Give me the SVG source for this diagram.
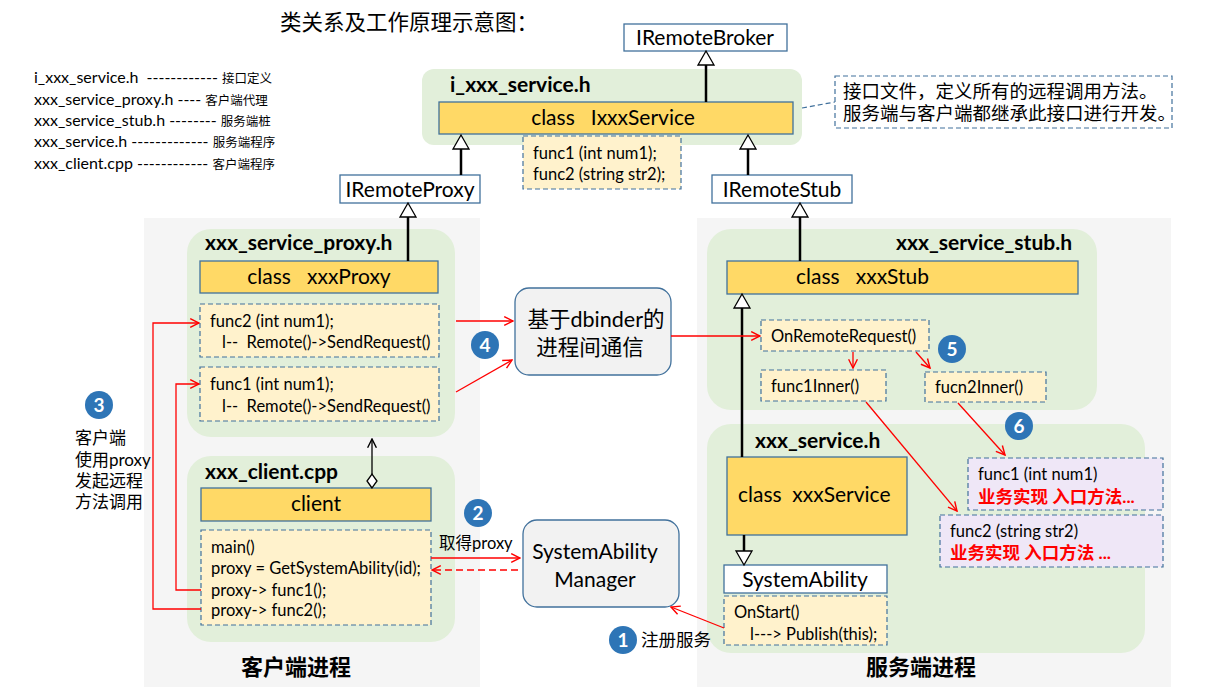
<svg xmlns="http://www.w3.org/2000/svg" width="1216" height="687" viewBox="0 0 1216 687" xml:space="preserve">
<defs>
<style>
text{font-family:Lato,"Noto Sans CJK SC",sans-serif;fill:#000;white-space:pre}
.gray{fill:#f5f5f5}
.green{fill:#e2efda}
.cls{fill:#ffd966;stroke:#41719c;stroke-width:1.3}
.box{fill:#fff;stroke:#41719c;stroke-width:1.3}
.dash{fill:#fff2cc;stroke:#41719c;stroke-width:1.2;stroke-dasharray:5 3}
.purp{fill:#efe7f7;stroke:#41719c;stroke-width:1.2;stroke-dasharray:5 3}
.rbox{fill:#f2f2f2;stroke:#41719c;stroke-width:1.3}
.t20{font-size:21px}
.t18{font-size:21px}
.t14{font-size:16.5px}
.t13{font-size:16px}
.hd{font-size:21px;font-weight:bold}
.cjk11{font-size:12.5px}
.badge circle{fill:#2e75b6}
.badge text{fill:#fff;font-size:19px;font-weight:bold;text-anchor:middle}
.inh{stroke:#000;stroke-width:2.5;fill:none}
.red{stroke:#ff0000;stroke-width:1.3;fill:none}
.redd{stroke:#ff0000;stroke-width:1.3;fill:none;stroke-dasharray:7 4}
.redt{fill:#ff0000;font-size:17.5px;font-weight:bold}
</style>
<marker id="ra" viewBox="0 0 10 10" refX="9" refY="5" markerWidth="11" markerHeight="11" markerUnits="userSpaceOnUse" orient="auto">
<path d="M1,1 L9,5 L1,9" fill="none" stroke="#ff0000" stroke-width="1.3"/>
</marker>
<marker id="ba" viewBox="0 0 10 10" refX="9" refY="5" markerWidth="11" markerHeight="11" markerUnits="userSpaceOnUse" orient="auto">
<path d="M1,1 L9,5 L1,9" fill="none" stroke="#000" stroke-width="1.3"/>
</marker>
</defs>
<rect width="1216" height="687" fill="#fff"/>

<g id="backgrounds">
<rect class="gray" x="144" y="218" width="336" height="469"/>
<rect class="gray" x="697" y="218" width="474" height="469"/>
</g>

<g id="title"><text x="280" y="30" font-size="21.5">类关系及工作原理示意图：</text></g>

<g id="legend">
<text x="34" y="83" class="t13">i_xxx_service.h  ------------ <tspan class="cjk11">接口定义</tspan></text>
<text x="34" y="105" class="t13">xxx_service_proxy.h ---- <tspan class="cjk11">客户端代理</tspan></text>
<text x="34" y="126" class="t13">xxx_service_stub.h -------- <tspan class="cjk11">服务端桩</tspan></text>
<text x="34" y="147" class="t13">xxx_service.h ------------- <tspan class="cjk11">服务端程序</tspan></text>
<text x="34" y="169" class="t13">xxx_client.cpp ------------ <tspan class="cjk11">客户端程序</tspan></text>
</g>

<g id="IRemoteBroker"><rect class="box" x="624" y="24" width="163" height="27"/><text x="705" y="45" class="t18" text-anchor="middle">IRemoteBroker</text></g>

<g id="i_xxx_service">
<rect class="green" x="422" y="69" width="380" height="76" rx="12"/>
<text x="450" y="92" class="hd">i_xxx_service.h</text>
<rect class="cls" x="439" y="102" width="354" height="32"/>
<text x="613" y="125" class="t20" text-anchor="middle">class   IxxxService</text>
<rect class="dash" x="523" y="136" width="158" height="53"/>
<text x="533" y="159" class="t14">func1 (int num1);</text>
<text x="533" y="180" class="t14">func2 (string str2);</text>
</g>

<g id="callout">
<rect x="835" y="76" width="337" height="52" fill="#fff" stroke="#41719c" stroke-width="1.2" stroke-dasharray="5 3"/>
<text x="843" y="98" font-size="18.5">接口文件，定义所有的远程调用方法。</text>
<text x="843" y="120" font-size="18.5">服务端与客户端都继承此接口进行开发。</text>
</g>

<g id="IRemoteProxy"><rect class="box" x="340" y="175" width="140" height="28"/><text x="410" y="197" class="t18" text-anchor="middle">IRemoteProxy</text></g>
<g id="IRemoteStub"><rect class="box" x="712" y="175" width="140" height="28"/><text x="782" y="197" class="t18" text-anchor="middle">IRemoteStub</text></g>

<g id="proxy">
<rect class="green" x="187" y="229" width="268" height="208" rx="24"/>
<text x="205" y="250" class="hd">xxx_service_proxy.h</text>
<rect class="cls" x="200" y="261" width="238" height="32"/>
<text x="319" y="284" class="t20" text-anchor="middle">class   xxxProxy</text>
<rect class="dash" x="200" y="304" width="239" height="53"/>
<text x="210" y="327" class="t14">func2 (int num1);</text>
<text x="222" y="348" class="t14">l--  Remote()-&gt;SendRequest()</text>
<rect class="dash" x="200" y="367" width="239" height="54"/>
<text x="210" y="390" class="t14">func1 (int num1);</text>
<text x="222" y="412" class="t14">l--  Remote()-&gt;SendRequest()</text>
</g>

<g id="client">
<rect class="green" x="187" y="456" width="268" height="186" rx="24"/>
<text x="205" y="479" class="hd">xxx_client.cpp</text>
<rect class="cls" x="201" y="488" width="230" height="33"/>
<text x="316" y="511" class="t20" text-anchor="middle">client</text>
<rect class="dash" x="201" y="530" width="230" height="95"/>
<text x="211" y="553" class="t14">main()</text>
<text x="211" y="574" class="t14">proxy = GetSystemAbility(id);</text>
<text x="211" y="596" class="t14">proxy-&gt; func1();</text>
<text x="211" y="616" class="t14">proxy-&gt; func2();</text>
</g>

<g id="dbinder">
<rect class="rbox" x="515" y="288" width="156" height="87" rx="14"/>
<text x="596" y="327" font-size="21.5" text-anchor="middle">基于dbinder的</text>
<text x="590" y="355" font-size="21.5" text-anchor="middle">进程间通信</text>
</g>

<g id="sam">
<rect class="rbox" x="523" y="520" width="156" height="87" rx="14"/>
<text x="595" y="559" font-size="21" text-anchor="middle">SystemAbility</text>
<text x="595" y="587" font-size="21" text-anchor="middle">Manager</text>
</g>

<g id="stub">
<rect class="green" x="707" y="229" width="390" height="181" rx="24"/>
<text x="1072" y="250" class="hd" text-anchor="end">xxx_service_stub.h</text>
<rect class="cls" x="727" y="261" width="351" height="33"/>
<text x="796" y="284" class="t20">class   xxxStub</text>
<rect class="dash" x="761" y="320" width="168" height="31"/>
<text x="771" y="342" class="t14">OnRemoteRequest()</text>
<rect class="dash" x="761" y="370" width="125" height="31"/>
<text x="771" y="392" class="t14">func1Inner()</text>
<rect class="dash" x="925" y="372" width="121" height="30"/>
<text x="935" y="393" class="t14">fucn2Inner()</text>
</g>

<g id="service">
<rect class="green" x="707" y="424" width="438" height="229" rx="24"/>
<text x="755" y="448" class="hd">xxx_service.h</text>
<rect class="cls" x="727" y="457" width="180" height="78"/>
<text x="738" y="502" class="t20">class  xxxService</text>
<rect class="box" x="724" y="565" width="163" height="28"/>
<text x="805" y="587" class="t18" text-anchor="middle">SystemAbility</text>
<rect class="dash" x="724" y="596" width="163" height="49"/>
<text x="734" y="618" class="t14">OnStart()</text>
<text x="750" y="640" class="t14">l---&gt; Publish(this);</text>
<rect class="purp" x="968" y="458" width="195" height="52"/>
<text x="978" y="480" class="t14">func1 (int num1)</text>
<text x="978" y="503" class="redt">业务实现 入口方法...</text>
<rect class="purp" x="940" y="515" width="223" height="52"/>
<text x="950" y="537" class="t14">func2 (string str2)</text>
<text x="950" y="559" class="redt">业务实现 入口方法 ...</text>
</g>

<g id="side-note">
<text x="75" y="444" font-size="17">客户端</text>
<text x="75" y="466" font-size="17">使用proxy</text>
<text x="75" y="487" font-size="17">发起远程</text>
<text x="75" y="508" font-size="17">方法调用</text>
<text x="641" y="646" font-size="17.5">注册服务</text>
<text x="439" y="549" font-size="16.5">取得proxy</text>
</g>

<g id="bottom-labels">
<text x="296" y="675" font-size="22" font-weight="bold" text-anchor="middle">客户端进程</text>
<text x="921" y="675" font-size="22" font-weight="bold" text-anchor="middle">服务端进程</text>
</g>

<g id="connectors">
<line x1="802" y1="108" x2="835" y2="102" stroke="#41719c" stroke-width="1.2" stroke-dasharray="5 3"/>
<g class="inh">
<line x1="706" y1="102" x2="706" y2="65"/>
<line x1="461" y1="175" x2="461" y2="149"/>
<line x1="748" y1="175" x2="748" y2="149"/>
<line x1="408" y1="261" x2="408" y2="217"/>
<line x1="800" y1="261" x2="800" y2="217"/>
<line x1="742" y1="457" x2="742" y2="308"/>
<line x1="744" y1="535" x2="744" y2="551"/>
</g>
<g fill="#fff" stroke="#000" stroke-width="1.3">
<path d="M706,51 L698,65 L714,65 Z"/>
<path d="M461,135 L453,149 L469,149 Z"/>
<path d="M748,135 L740,149 L756,149 Z"/>
<path d="M408,203 L400,217 L416,217 Z"/>
<path d="M800,203 L792,217 L808,217 Z"/>
<path d="M742,294 L734,308 L750,308 Z"/>
<path d="M744,565 L736,551 L752,551 Z"/>
</g>
<line x1="372" y1="474" x2="372" y2="439" stroke="#000" stroke-width="1.3" marker-end="url(#ba)"/>
<path d="M372,488 L367,481 L372,474 L377,481 Z" fill="#fff" stroke="#000" stroke-width="1.3"/>
<polyline class="red" points="201,609 153,609 153,323 199,323" marker-end="url(#ra)"/>
<polyline class="red" points="201,590 176,590 176,384 199,384" marker-end="url(#ra)"/>
<line class="red" x1="456" y1="321" x2="513" y2="321" marker-end="url(#ra)"/>
<line class="red" x1="456" y1="392" x2="512" y2="360" marker-end="url(#ra)"/>
<line class="red" x1="671" y1="336" x2="760" y2="336" marker-end="url(#ra)"/>
<line class="red" x1="853" y1="352" x2="853" y2="368" marker-end="url(#ra)"/>
<line class="red" x1="916" y1="352" x2="930" y2="368" marker-end="url(#ra)"/>
<line class="red" x1="866" y1="402" x2="957" y2="511" marker-end="url(#ra)"/>
<line class="red" x1="958" y1="403" x2="1005" y2="455" marker-end="url(#ra)"/>
<line class="red" x1="431" y1="558" x2="520" y2="558" marker-end="url(#ra)"/>
<line class="redd" x1="518" y1="570" x2="432" y2="570" marker-end="url(#ra)"/>
<line class="red" x1="724" y1="628" x2="671" y2="607" marker-end="url(#ra)"/>
</g>

<g id="badges">
<g class="badge"><circle cx="623" cy="640" r="14"/><text x="623" y="647">1</text></g>
<g class="badge"><circle cx="478" cy="513" r="14"/><text x="478" y="520">2</text></g>
<g class="badge"><circle cx="99" cy="405" r="14"/><text x="99" y="412">3</text></g>
<g class="badge"><circle cx="485" cy="345" r="14"/><text x="485" y="352">4</text></g>
<g class="badge"><circle cx="952" cy="349" r="14"/><text x="952" y="356">5</text></g>
<g class="badge"><circle cx="1019" cy="426" r="14"/><text x="1019" y="433">6</text></g>
</g>
</svg>
